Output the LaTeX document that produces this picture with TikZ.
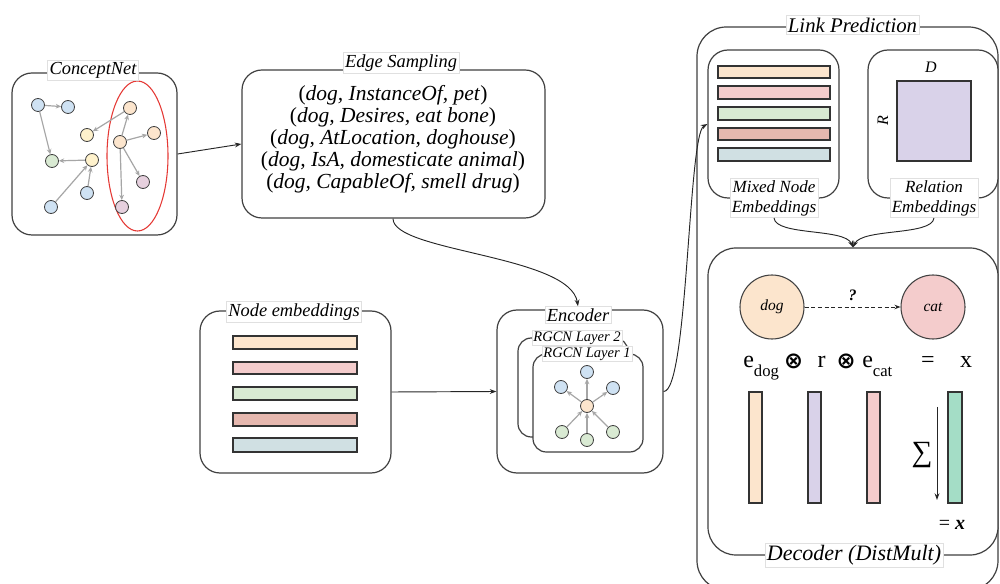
\documentclass[tikz,border=0pt]{standalone}
\usepackage{fontspec}
\setmainfont{Liberation Serif}[ItalicFont={Liberation Serif Italic},BoldFont={Liberation Serif Bold},BoldItalicFont={Liberation Serif Bold Italic}]
\newfontfamily\symf{DejaVu Sans}
\usetikzlibrary{arrows.meta,shapes.geometric,fit}
\definecolor{cpeach}{HTML}{FCE5CD}
\definecolor{cpink}{HTML}{F4CCCC}
\definecolor{cgreen}{HTML}{D9EAD3}
\definecolor{crose}{HTML}{E6B8AF}
\definecolor{cbgray}{HTML}{D0E0E3}
\definecolor{clav}{HTML}{D9D2E9}
\definecolor{cmint}{HTML}{A4DDC6}
\definecolor{cblue}{HTML}{CFE2F3}
\definecolor{cyellow}{HTML}{FFF2CC}
\definecolor{cmauve}{HTML}{E6D0DE}
\definecolor{cred}{HTML}{E53935}
\begin{document}
\begin{tikzpicture}[x=0.75pt,y=-0.75pt,
  region/.style={draw=black!75, line width=0.9pt, rounded corners=15pt, inner sep=0pt, fill=white},
  lbl/.style={fill=white, draw=black!12, line width=0.4pt, inner sep=1.5pt, font=\itshape\fontsize{13.8}{15.5}\selectfont},
  smalllbl/.style={lbl, inner sep=1pt, font=\itshape\fontsize{10.9}{12}\selectfont},
  cnode/.style={circle, draw=black!75, line width=0.6pt, minimum size=9.75pt, inner sep=0pt},
  garr/.style={draw=black!35, line width=0.9pt, -{Stealth[length=4pt,width=3.5pt]}},
  conn/.style={draw=black!85, line width=0.7pt, -{Stealth[length=5pt,width=3.6pt]}},
  bar/.style={draw=black!80, line width=0.8pt},
  eqf/.style={inner sep=0pt, font=\fontsize{18}{20}\selectfont},
  otf/.style={inner sep=0pt, font=\symf\bfseries\fontsize{17}{19}\selectfont},
]
\useasboundingbox (0,0) rectangle (1000,584);

% ---------------- ConceptNet ----------------
\node[region, fit={(12,73) (177,235)}] (cn) {};
\node[ellipse, draw=cred, line width=0.8pt, minimum width=45.75pt, minimum height=112.5pt, inner sep=0pt] (ell) at (137.5,156) {};
\node[cnode, fill=cblue] (b1) at (38,105) {};
\node[cnode, fill=cblue] (b2) at (68,107) {};
\node[cnode, fill=cyellow] (y1) at (87,135) {};
\node[cnode, fill=cgreen] (g1) at (52,161) {};
\node[cnode, fill=cyellow] (y2) at (92,160) {};
\node[cnode, fill=cblue] (b3) at (87,193) {};
\node[cnode, fill=cblue] (b4) at (51,207) {};
\node[cnode, fill=cpeach] (o1) at (130,108) {};
\node[cnode, fill=cpeach] (o2) at (120,142) {};
\node[cnode, fill=cpeach] (o3) at (154,133) {};
\node[cnode, fill=cmauve] (p1) at (143,182) {};
\node[cnode, fill=cmauve] (p2) at (122,207) {};
\draw[garr] (b1) -- (b2);
\draw[garr] (b1) -- (g1);
\draw[garr] (y2) -- (g1);
\draw[garr] (b4) -- (y2);
\draw[garr] (b3) -- (y2);
\draw[garr] (o1) -- (y1);
\draw[garr] (o2) -- (o1);
\draw[garr] (o2) -- (o3);
\draw[garr] (o2) -- (p1);
\draw[garr] (o2) -- (p2);
\node[lbl] (cnl) at (93,70) {ConceptNet};

% ---------------- Edge Sampling ----------------
\node[region, fit={(242,70) (545,218)}] (es) {};
\node[align=center, inner sep=0pt, font=\fontsize{16.1}{16.5}\selectfont] (estext) at (393,139)
  {(\textit{dog, InstanceOf, pet})\\
   (\textit{dog, Desires, eat bone})\\
   (\textit{dog, AtLocation, doghouse})\\
   (\textit{dog, IsA, domesticate animal})\\
   (\textit{dog, CapableOf, smell drug})};
\node[lbl] (esl) at (401,63) {Edge Sampling};
\draw[conn] (cn.east) -- (es.west);

% ---------------- Node embeddings ----------------
\node[region, fit={(200,311) (391,473)}] (ne) {};
\draw[bar, fill=cpeach] (233,336) rectangle (357,349);
\draw[bar, fill=cpink]  (233,362) rectangle (357,374);
\draw[bar, fill=cgreen] (233,387) rectangle (357,400);
\draw[bar, fill=crose]  (233,413) rectangle (357,426);
\draw[bar, fill=cbgray] (233,438) rectangle (357,452);
\node[lbl] (nel) at (294,312) {Node embeddings};

% ---------------- Encoder ----------------
\node[region, fit={(497,310) (663,473)}] (enc) {};
\node[region, rounded corners=10pt, fit={(518,338) (628,437)}] (l2) {};
\node[smalllbl] (l2l) at (577,338) {RGCN Layer 2};
\node[region, rounded corners=10pt, fit={(533,354) (643,452)}] (l1) {};
\node[smalllbl] (l1l) at (587,354) {RGCN Layer 1};
\node[cnode, fill=cpeach] (ec) at (587,406) {};
\node[cnode, fill=cblue] (et) at (587,372) {};
\node[cnode, fill=cblue] (el) at (561,387) {};
\node[cnode, fill=cblue] (er) at (613,388) {};
\node[cnode, fill=cgreen] (ebl) at (562,432) {};
\node[cnode, fill=cgreen] (eb) at (587,440) {};
\node[cnode, fill=cgreen] (ebr) at (613,432) {};
\draw[garr] (ec) -- (et);
\draw[garr] (ec) -- (el);
\draw[garr] (ec) -- (er);
\draw[garr] (ebl) -- (ec);
\draw[garr] (eb) -- (ec);
\draw[garr] (ebr) -- (ec);
\node[lbl] (encl) at (578,315) {Encoder};

\draw[conn] (es.south -| 393,218) .. controls (393,252) and (570,255) .. (encl.north);
\draw[conn] (ne.east) -- (enc.west);

% ---------------- Link Prediction ----------------
\node[region, rounded corners=22pt, fit={(697,27) (998,590)}] (lp) {};
\node[lbl, font=\itshape\fontsize{15.6}{17}\selectfont] (lpl) at (852.5,25) {Link Prediction};

\node[region, fit={(708,50) (839,198)}] (mixed) {};
\draw[bar, fill=cpeach] (718,66) rectangle (830,78);
\draw[bar, fill=cpink]  (718,86) rectangle (830,99);
\draw[bar, fill=cgreen] (718,107) rectangle (830,120);
\draw[bar, fill=crose]  (718,128) rectangle (830,140);
\draw[bar, fill=cbgray] (718,148) rectangle (830,161);
\node[lbl, align=center, font=\itshape\fontsize{12.8}{15}\selectfont] (mixl) at (774,198) {Mixed Node\\Embeddings};

\node[region, fit={(868,50) (998,198)}] (rel) {};
\draw[bar, fill=clav] (897,81) rectangle (971,161);
\node[font=\itshape\fontsize{12}{14}\selectfont, inner sep=0pt] (dlab) at (931,67) {D};
\node[font=\itshape\fontsize{12}{14}\selectfont, inner sep=0pt, rotate=90] (rlab) at (883,121) {R};
\node[lbl, align=center, font=\itshape\fontsize{12.8}{15}\selectfont] (rell) at (934,198) {Relation\\Embeddings};

\draw[conn] (enc.east) .. controls (688,392) and (688,135) .. (mixed.west);

% ---------------- Decoder ----------------
\node[region, rounded corners=21pt, fit={(708,248) (998,555)}] (dec) {};
\draw[conn] (mixl.south) .. controls (776,236) and (845,228) .. (dec.north);
\draw[conn] (rell.south) .. controls (932,236) and (862,228) .. (dec.north);

\node[circle, draw=black!75, line width=0.8pt, fill=cpeach, minimum size=48pt, inner sep=0pt, font=\itshape\fontsize{11.6}{13}\selectfont] (dog) at (772,307) {dog};
\node[circle, draw=black!75, line width=0.8pt, fill=cpink, minimum size=48pt, inner sep=0pt, font=\itshape\fontsize{11.6}{13}\selectfont] (cat) at (933,307) {cat};
\draw[draw=black!85, line width=0.7pt, dash pattern=on 3pt off 2pt, -{Stealth[length=4.5pt,width=3.4pt]}] (dog) -- node[above=1pt, font=\bfseries\itshape\fontsize{12}{14}\selectfont] {?} (cat);

\node[eqf, anchor=base west] (edog) at (743,368) {e\raisebox{-6.75pt}{\fontsize{12.5}{14}\selectfont dog}};
\node[otf] (ot1) at (793.5,361) {⊗};
\node[eqf, anchor=base] (rr) at (821.5,368) {r};
\node[otf] (ot2) at (846,361) {⊗};
\node[eqf, anchor=base west] (ecat) at (862,368) {e\raisebox{-6.75pt}{\fontsize{12.5}{14}\selectfont cat}};
\node[eqf, anchor=base] (eqs) at (928,368) {=};
\node[eqf, anchor=base] (xx) at (966,368) {x};

\draw[bar, fill=cpeach] (749,392) rectangle (762,503);
\draw[bar, fill=clav]   (808,392) rectangle (821,503);
\draw[bar, fill=cpink]  (867,392) rectangle (880,503);
\draw[bar, fill=cmint]  (948,392) rectangle (962,503);

\coordinate (s1) at (937,407);
\coordinate (s2) at (937,500);
\draw[conn] (s1) -- (s2);
\node[inner sep=0pt, font=\fontsize{22}{24}\selectfont] (sig) at (922,455) {∑};
\node[inner sep=0pt, font=\fontsize{15}{17}\selectfont] (res) at (952,525) {= \textbf{\textit{x}}};

\node[lbl, font=\itshape\fontsize{16.5}{18}\selectfont] (decl) at (854,555) {Decoder (DistMult)};
\end{tikzpicture}
\end{document}
